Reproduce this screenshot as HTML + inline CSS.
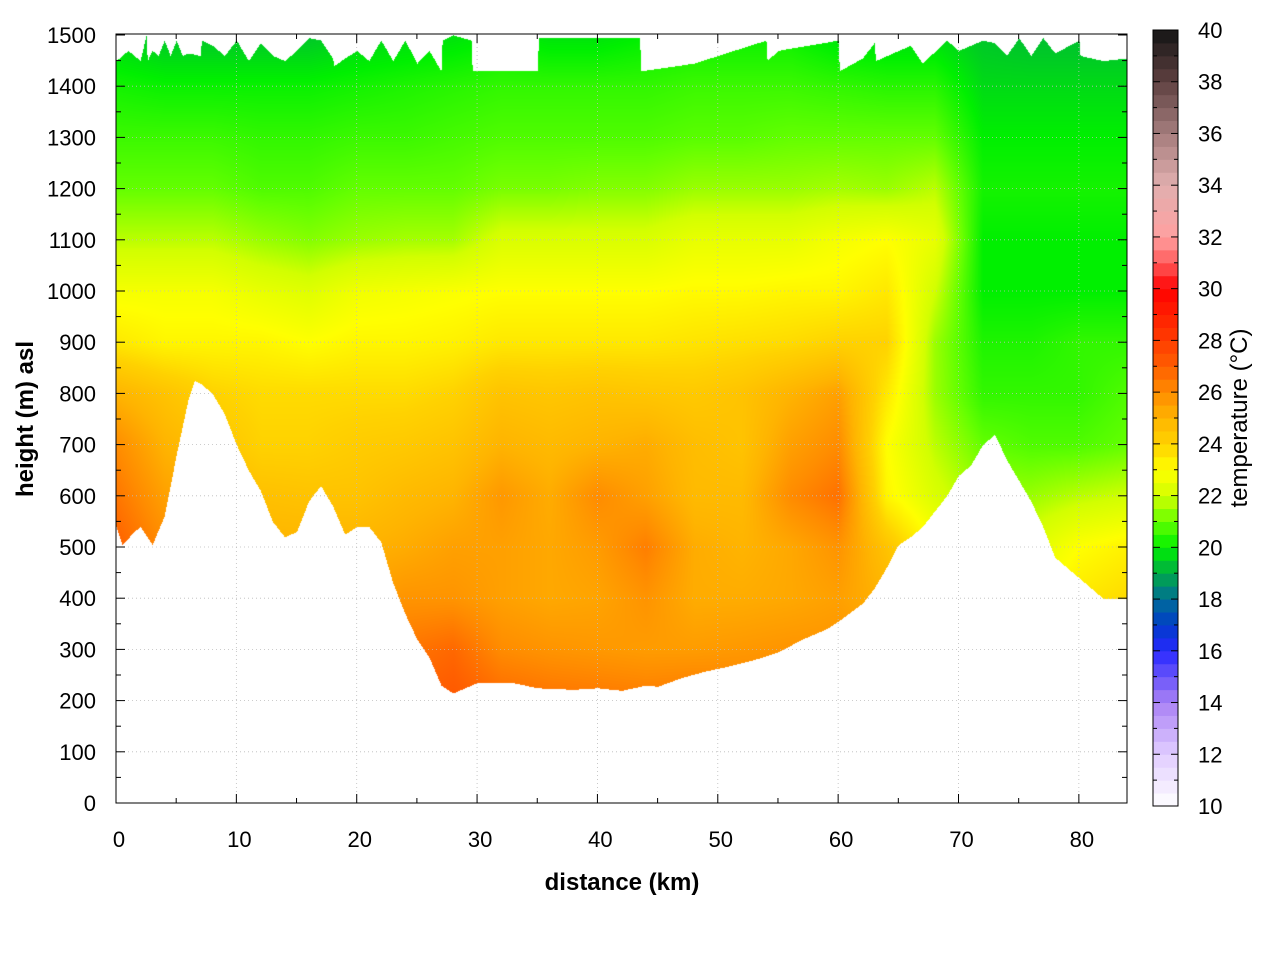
<!DOCTYPE html>
<html><head><meta charset="utf-8">
<style>
html,body{margin:0;padding:0;background:#fff;width:1280px;height:960px;overflow:hidden}
#wrap{position:relative;width:1280px;height:960px}
canvas{position:absolute;left:116px;top:35px}
svg{position:absolute;left:0;top:0}
text{font-family:"Liberation Sans",sans-serif;fill:#000}
</style></head>
<body>
<div id="wrap">
<canvas id="hm" width="1011" height="768"></canvas>
<svg id="ax" width="1280" height="960"></svg>
</div>
<script>
// ---- data ----
const distKm = [0,4,8,12,16,20,24,28,32,36,40,44,48,52,56,60,64,68,72,76,80,84];
const heightsM = [200,300,400,500,600,700,800,900,1000,1100,1200,1300,1400,1500];
const t200 = [27,26.5,26,26,26,26,27,27.2,26.8,26.6,26.5,26.4,26.5,26.3,26.2,26,26,24,23,23.5,24,24];
const t300 = [27,26.5,26,26,26,26,26.5,26.8,26,25.8,25.7,25.6,25.6,25.7,25.8,25.8,25.5,24,23,23.5,24,24];
const t400 = [27,26.5,26,25.5,25.5,25.5,25.8,25.8,25.5,25.3,25.4,25.8,25.2,25.2,25.3,25.5,25,23.5,22.8,23,23.5,23.8];
const t500 = [27,26,25.5,25,25,25,25.2,25.5,25.5,25.3,25.6,26.3,25.2,25,25.3,25.8,24.5,23,22.5,22.3,23,23.3];
const t600 = [26.5,25.5,25,24.6,24.5,24.5,24.8,25,25.7,25.2,26,25.5,24.8,24.8,26,26.6,23.2,22.2,21.5,21.5,21.8,22];
const t700 = [26,25,24.5,24,24,24.2,24.3,24.5,25,24.8,25,25.2,24.7,24.5,25.5,26,23,21.8,21,20.8,20.8,21];
const t800 = [25,24.5,24,23.8,23.8,23.8,23.8,24,24.5,24.4,24.5,24.4,24.3,24.5,25,25.5,23.5,21.5,20.5,20.5,20.5,20.8];
const t900 = [23.5,23.2,23.2,23.2,23,23.2,23.2,23.3,23.5,23.5,23.5,23.5,23.6,23.7,23.8,24,24,21.5,20.3,20.3,20.5,20.5];
const t1000 = [22.8,22.8,22.8,22.5,22.3,22.7,22.8,22.9,23,23,23,23,23.1,23.1,23.2,23.2,23.5,22,20,20,20,20];
const t1100 = [21.8,21.8,21.8,21.5,21.3,21.5,21.6,21.6,22.2,22.2,22.2,22.2,22.5,22.5,22.5,22.8,23,22.5,20,20,20,20];
const t1200 = [21,21,21,20.8,20.8,21,21,21,21.2,21.2,21.3,21.3,21.5,21.5,21.5,21.6,21.5,21.8,20.2,20.2,20.2,20.2];
const t1300 = [20.6,20.6,20.6,20.5,20.5,20.6,20.6,20.7,20.8,20.8,20.8,20.8,20.9,20.9,21,21,21,21,20,20,20,20];
const t1400 = [20.2,20.1,20.1,20.1,20.1,20.2,20.3,20.4,20.5,20.5,20.5,20.5,20.6,20.6,20.6,20.5,20.4,20.4,19.7,19.7,19.7,19.7];
const t1500 = [19.6,19.4,19.4,19.4,19.4,19.6,19.7,19.8,20,19.8,19.8,20,20.1,20.1,20.1,19.8,19.7,19.7,19.4,19.3,19.3,19.3];
const tempGrid = [t200,t300,t400,t500,t600,t700,t800,t900,t1000,t1100,t1200,t1300,t1400,t1500];
const groundKm = [0,0.5,1.5,2,3,4,5,6,6.5,7,8,9,10,11,12,13,14,15,16,17,18,19,20,21,22,23,24,25,26,27,28,29,30,31,33,35,38,40,42,44,45,47,49,51,53,55,57,59,60,62,63,64,65,66,67,68,69,70,71,72,73,74,75,76,77,78,79,80,81,82,83,84];
const groundM = [540,505,530,540,505,560,680,790,825,820,800,760,700,650,610,550,520,530,590,620,580,525,540,540,510,430,370,320,285,230,215,225,235,235,235,225,222,225,220,230,228,245,258,268,280,295,320,340,355,390,420,460,505,520,540,570,600,640,660,700,720,670,630,590,540,480,460,440,420,400,400,400];
const topKm = [0,1,2,2.5,2.6,3,3.5,4,4.5,5,5.5,6,7,7.1,8,9,10,11,12,13,14,15,16,17,18,18.1,19,20,21,22,23,24,25,26,27,27.1,28,29.5,29.6,30,35,35.1,43.5,43.6,48,54,54.1,55,60,60.1,62,63,63.1,66,67,69,70,72,73,74,75,76,77,78,80,80.1,82,84];
const topM = [1450,1470,1450,1500,1450,1470,1460,1490,1460,1490,1460,1465,1460,1490,1480,1460,1490,1450,1485,1460,1450,1470,1495,1490,1455,1440,1455,1470,1450,1490,1450,1490,1445,1470,1430,1490,1500,1490,1430,1430,1430,1495,1495,1430,1445,1490,1450,1470,1490,1430,1455,1485,1450,1480,1445,1490,1470,1490,1485,1460,1495,1460,1495,1465,1490,1460,1450,1455];
const xTicks = [0,10,20,30,40,50,60,70,80];
const yTicks = [0,100,200,300,400,500,600,700,800,900,1000,1100,1200,1300,1400,1500];
const cbTicks = [10,12,14,16,18,20,22,24,26,28,30,32,34,36,38,40];

// ---- scales ----
const X0=116, X1=1127, Y0=803, Y1=35, KMAX=84;
const xs = km => X0 + km*(X1-X0)/KMAX;
const ys = m => Y0 - m*(Y0-Y1)/1500;

const stops=[[10,[255,255,255]],[12,[225,205,255]],[14,[170,130,245]],[16,[40,40,255]],[17,[0,60,200]],[18,[0,110,150]],[19,[0,170,70]],[20,[0,240,0]],[21,[100,255,0]],[22,[210,255,0]],[23,[255,255,0]],[24,[255,210,0]],[25,[255,180,0]],[26,[255,140,0]],[27,[255,95,0]],[28,[255,60,0]],[30,[255,0,0]],[31,[255,90,90]],[32,[255,160,160]],[34,[225,175,175]],[36,[165,125,125]],[38,[95,65,65]],[40,[20,20,20]]];
function colorOf(t){
  if(t<=stops[0][0]) return stops[0][1];
  for(let i=1;i<stops.length;i++){ if(t<=stops[i][0]){const a=stops[i-1],b=stops[i];const f=(t-a[0])/(b[0]-a[0]);return a[1].map((v,k)=>Math.round(v+(b[1][k]-v)*f));}}
  return stops[stops.length-1][1];
}
function interp1(xa,ya,x){ if(x<=xa[0])return ya[0]; for(let i=1;i<xa.length;i++) if(x<=xa[i]){const f=(x-xa[i-1])/(xa[i]-xa[i-1]);return ya[i-1]+(ya[i]-ya[i-1])*f;} return ya[ya.length-1];}
function tempAt(km,m){
  let ci=Math.min(Math.max((km-distKm[0])/4,0),distKm.length-1.0001);
  let ri=Math.min(Math.max((m-heightsM[0])/100,0),heightsM.length-1.0001);
  const c=Math.floor(ci),r=Math.floor(ri),fc=ci-c,fr=ri-r;
  const a=tempGrid[r][c],b=tempGrid[r][c+1],d=tempGrid[r+1][c],e=tempGrid[r+1][c+1];
  return (a*(1-fc)+b*fc)*(1-fr)+(d*(1-fc)+e*fc)*fr;
}
// ---- heatmap ----
const cv=document.getElementById('hm'),ctx=cv.getContext('2d');
const W=cv.width,H=cv.height,img=ctx.createImageData(W,H);
for(let px=0;px<W;px++){
  const km=px*KMAX/(X1-X0);
  const g=interp1(groundKm,groundM,km), tp=interp1(topKm,topM,km);
  for(let py=0;py<H;py++){
    const m=(Y0-(py+Y1))*1500/(Y0-Y1);
    if(m<g||m>tp) continue;
    const c=colorOf(tempAt(km,m)); const o=(py*W+px)*4;
    img.data[o]=c[0];img.data[o+1]=c[1];img.data[o+2]=c[2];img.data[o+3]=255;
  }
}
ctx.putImageData(img,0,0);

// ---- axes ----
const svg=document.getElementById('ax');const NS='http://www.w3.org/2000/svg';
function mk(tag,attrs,parent){const e=document.createElementNS(NS,tag);for(const k in attrs)e.setAttribute(k,attrs[k]);(parent||svg).appendChild(e);return e;}
const grid=mk('g',{});


xTicks.forEach(v=>{if(v>0)mk('line',{x1:xs(v),x2:xs(v),y1:Y1,y2:Y0,stroke:'#bbb','stroke-width':0.8,'stroke-dasharray':'1,3'},grid);});
yTicks.forEach(v=>{if(v>0&&v<1500)mk('line',{x1:X0,x2:X1,y1:ys(v),y2:ys(v),stroke:'#bbb','stroke-width':0.8,'stroke-dasharray':'1,3'},grid);});
const frame=mk('rect',{x:X0,y:Y1-1,width:X1-X0,height:Y0-Y1+1,fill:'none',stroke:'#000','stroke-width':1});


const xt=mk('g',{});


for(let v=0;v<=KMAX;v+=5){const L=v%10===0?9:5;mk('line',{x1:xs(v),x2:xs(v),y1:Y0,y2:Y0-L,stroke:'#000'},xt);mk('line',{x1:xs(v),x2:xs(v),y1:Y1-1,y2:Y1-1+L,stroke:'#000'},xt);}
xTicks.forEach(v=>{const t=mk('text',{x:xs(v)+3,y:847,'font-size':22,'text-anchor':'middle'},xt);t.textContent=v;});
const yt=mk('g',{});


for(let v=0;v<=1500;v+=50){const L=v%100===0?9:5;mk('line',{x1:X0,x2:X0+L,y1:ys(v),y2:ys(v),stroke:'#000'},yt);mk('line',{x1:X1,x2:X1-L,y1:ys(v),y2:ys(v),stroke:'#000'},yt);}
yTicks.forEach(v=>{const t=mk('text',{x:96,y:ys(v)+8,'font-size':22,'text-anchor':'end'},yt);t.textContent=v;});
const xl=mk('text',{x:622,y:890,'font-size':24,'font-weight':'bold','text-anchor':'middle'});
xl.textContent='distance (km)';


const yl=mk('text',{x:0,y:0,'font-size':24,'font-weight':'bold','text-anchor':'middle',transform:'translate(33,419) rotate(-90)'});
yl.textContent='height (m) asl';


// ---- colorbar ----
const CB0=806,CB1=30,CBx=1153,CBw=25;
const cby=t=>CB0-(t-10)*(CB0-CB1)/30;
const cb=mk('g',{});


for(let t=10;t<40;t+=0.5){mk('rect',{x:CBx,y:cby(t+0.5),width:CBw,height:cby(t)-cby(t+0.5)+0.5,fill:'rgb('+colorOf(t+0.25).join(',')+')'},cb);}
mk('rect',{x:CBx,y:CB1,width:CBw,height:CB0-CB1,fill:'none',stroke:'#000'},cb);
for(let t=10;t<=40;t+=1){const L=t%2===0?7:4;mk('line',{x1:CBx,x2:CBx+L,y1:cby(t),y2:cby(t),stroke:'#000'},cb);mk('line',{x1:CBx+CBw,x2:CBx+CBw-L,y1:cby(t),y2:cby(t),stroke:'#000'},cb);}
cbTicks.forEach(v=>{const t=mk('text',{x:1198,y:cby(v)+8,'font-size':22},cb);t.textContent=v;});
const cl=mk('text',{x:0,y:0,'font-size':24,'text-anchor':'middle',transform:'translate(1247,418) rotate(-90)'});
cl.textContent='temperature (°C)';


</script>
</body></html>
